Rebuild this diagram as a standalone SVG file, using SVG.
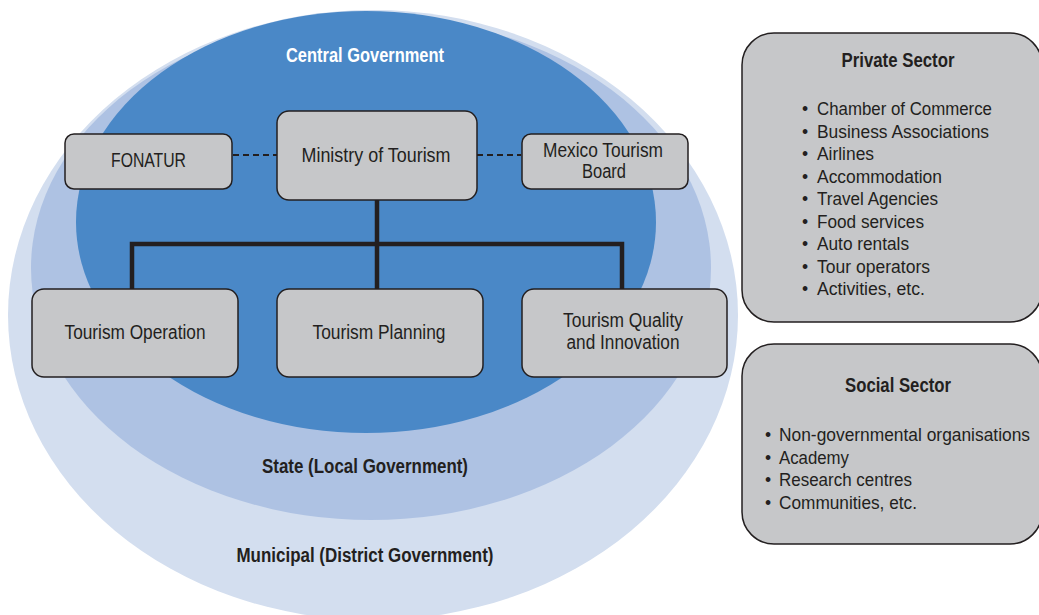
<svg xmlns="http://www.w3.org/2000/svg" width="1039" height="615" viewBox="0 0 1039 615">
<style>
.box{fill:#c6c7c9;stroke:#231f20;stroke-width:1.5}
.t{font-family:"Liberation Sans",Arial,sans-serif;font-size:19.5px;fill:#231f20;text-anchor:middle}
.b{font-family:"Liberation Sans",Arial,sans-serif;font-size:19.5px;font-weight:bold;fill:#231f20;text-anchor:middle}
.l{font-family:"Liberation Sans",Arial,sans-serif;font-size:17.5px;fill:#231f20}
.solid{fill:none;stroke:#231f20;stroke-width:4.5}
.dash{fill:none;stroke:#231f20;stroke-width:2.2;stroke-dasharray:6 4}
</style>
<rect width="1039" height="615" fill="#ffffff"/>
<g id="levels">
<ellipse id="municipal" cx="373" cy="315" rx="365" ry="305" fill="#d3deef"/>
<ellipse id="state" cx="371" cy="268" rx="340" ry="252" fill="#aec2e3"/>
<ellipse id="central" cx="366" cy="222" rx="290" ry="211" fill="#4a88c7"/>
<text class="b" x="365" y="62" textLength="158" lengthAdjust="spacingAndGlyphs" style="fill:#ffffff">Central Government</text>
<text class="b" x="365" y="473" textLength="206" lengthAdjust="spacingAndGlyphs">State (Local Government)</text>
<text class="b" x="365" y="562" textLength="257" lengthAdjust="spacingAndGlyphs">Municipal (District Government)</text>
</g>
<g id="connectors">
<path class="dash" d="M233 155H277M477 155H521"/>
<path class="solid" d="M377 200V289M132 289V244H622V289"/>
</g>
<g id="fonatur">
<rect class="box" x="65" y="134" width="167" height="55" rx="9"/>
<text class="t" x="148.5" y="167" textLength="75" lengthAdjust="spacingAndGlyphs">FONATUR</text>
</g>
<g id="ministry">
<rect class="box" x="277" y="111" width="200" height="89" rx="12"/>
<text class="t" x="376" y="162" textLength="149" lengthAdjust="spacingAndGlyphs">Ministry of Tourism</text>
</g>
<g id="mexico-board">
<rect class="box" x="522" y="134" width="166" height="55" rx="9"/>
<text class="t" x="603" y="157" textLength="120" lengthAdjust="spacingAndGlyphs">Mexico Tourism</text>
<text class="t" x="604" y="178" textLength="44" lengthAdjust="spacingAndGlyphs">Board</text>
</g>
<g id="operation">
<rect class="box" x="32" y="289" width="206" height="88" rx="12"/>
<text class="t" x="135" y="339" textLength="141" lengthAdjust="spacingAndGlyphs">Tourism Operation</text>
</g>
<g id="planning">
<rect class="box" x="277" y="289" width="206" height="88" rx="12"/>
<text class="t" x="379" y="339" textLength="133" lengthAdjust="spacingAndGlyphs">Tourism Planning</text>
</g>
<g id="quality">
<rect class="box" x="522" y="289" width="205" height="88" rx="12"/>
<text class="t" x="623" y="327" textLength="120" lengthAdjust="spacingAndGlyphs">Tourism Quality</text>
<text class="t" x="623" y="349" textLength="113" lengthAdjust="spacingAndGlyphs">and Innovation</text>
</g>
<g id="private-sector">
<rect class="box" x="742" y="33" width="300" height="289" rx="32"/>
<text class="b" x="898" y="67" textLength="113" lengthAdjust="spacingAndGlyphs">Private Sector</text>
<g class="l">
<text x="802" y="115">•</text><text x="817" y="115" textLength="175" lengthAdjust="spacingAndGlyphs">Chamber of Commerce</text>
<text x="802" y="137.5">•</text><text x="817" y="137.5" textLength="172" lengthAdjust="spacingAndGlyphs">Business Associations</text>
<text x="802" y="160">•</text><text x="817" y="160" textLength="57" lengthAdjust="spacingAndGlyphs">Airlines</text>
<text x="802" y="182.5">•</text><text x="817" y="182.5" textLength="125" lengthAdjust="spacingAndGlyphs">Accommodation</text>
<text x="802" y="205">•</text><text x="817" y="205" textLength="121" lengthAdjust="spacingAndGlyphs">Travel Agencies</text>
<text x="802" y="227.5">•</text><text x="817" y="227.5" textLength="107" lengthAdjust="spacingAndGlyphs">Food services</text>
<text x="802" y="250">•</text><text x="817" y="250" textLength="92" lengthAdjust="spacingAndGlyphs">Auto rentals</text>
<text x="802" y="272.5">•</text><text x="817" y="272.5" textLength="113" lengthAdjust="spacingAndGlyphs">Tour operators</text>
<text x="802" y="295">•</text><text x="817" y="295" textLength="108" lengthAdjust="spacingAndGlyphs">Activities, etc.</text>
</g>
</g>
<g id="social-sector">
<rect class="box" x="742" y="344" width="300" height="200" rx="32"/>
<text class="b" x="898" y="392" textLength="106" lengthAdjust="spacingAndGlyphs">Social Sector</text>
<g class="l">
<text x="765" y="441">•</text><text x="779" y="441" textLength="251" lengthAdjust="spacingAndGlyphs">Non-governmental organisations</text>
<text x="765" y="463.5">•</text><text x="779" y="463.5" textLength="70" lengthAdjust="spacingAndGlyphs">Academy</text>
<text x="765" y="486">•</text><text x="779" y="486" textLength="133" lengthAdjust="spacingAndGlyphs">Research centres</text>
<text x="765" y="508.5">•</text><text x="779" y="508.5" textLength="138" lengthAdjust="spacingAndGlyphs">Communities, etc.</text>
</g>
</g>
</svg>
